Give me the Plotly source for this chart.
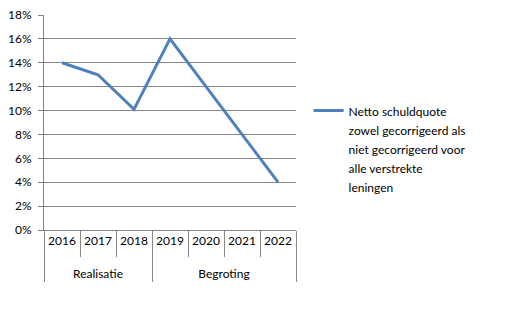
import plotly.graph_objects as go

groups = ["<br>Realisatie"] * 3 + ["<br>Begroting"] * 4
years = ["2016", "2017", "2018", "2019", "2020", "2021", "2022"]
values = [0.14, 0.13, 0.101, 0.16, 0.12, 0.08, 0.04]
legend_lines = ["Netto schuldquote", "zowel gecorrigeerd als",
                "niet gecorrigeerd voor", "alle verstrekte", "leningen"]
series_name = "<br>".join('<span style="font-size:12px">%s</span>' % s for s in legend_lines)

font = dict(family="Lato, 'Open Sans', sans-serif", size=12, color="#000000")
grid = "#868686"

fig = go.Figure()
fig.add_trace(go.Scatter(
    x=[groups, years], y=values, mode="lines", name=series_name,
    line=dict(color="#4F81BD", width=3),
))

fig.update_layout(
    width=510, height=311,
    margin=dict(l=44, r=214, t=15, b=81, autoexpand=False),
    paper_bgcolor="white", plot_bgcolor="white",
    font=font,
    showlegend=True,
    legend=dict(x=1.05, y=0.63, xanchor="left", yanchor="top", valign="top",
                font=dict(size=14.6), itemwidth=30, tracegroupgap=0),
)
fig.update_xaxes(
    type="multicategory", range=[-0.5, 6.5], automargin=False, tickangle=0,
    showline=True, linecolor=grid, linewidth=1,
    ticks="outside", tickson="boundaries", ticklen=26, tickcolor=grid,
    showdividers=True, dividercolor=grid, dividerwidth=1,
    showgrid=False, zeroline=False,
)
fig.update_yaxes(
    range=[0, 0.18], dtick=0.02, tickformat=".0%", automargin=False,
    showgrid=True, gridcolor=grid, gridwidth=1,
    showline=True, linecolor=grid, linewidth=1,
    ticks="outside", ticklen=5, tickcolor=grid, ticklabelstandoff=4,
    zeroline=False,
)

fig.write_html("out.html")
